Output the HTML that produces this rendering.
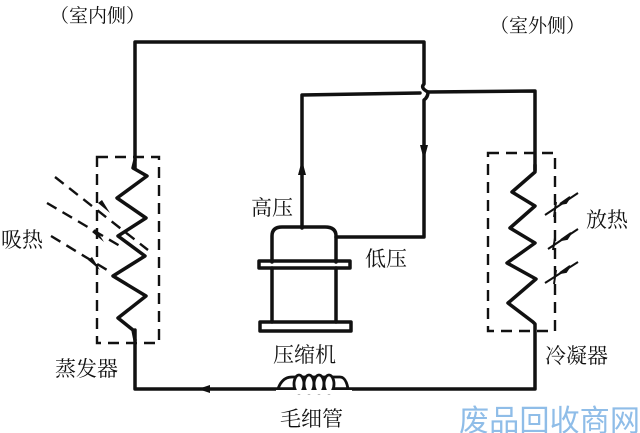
<!DOCTYPE html>
<html><head><meta charset="utf-8"><style>
html,body{margin:0;padding:0;background:#fff;}
svg{display:block;}
text{font-family:"Liberation Serif","Noto Serif CJK SC","Noto Sans CJK SC",serif;fill:#111;}
</style></head><body>
<svg width="640" height="433" viewBox="0 0 640 433" xmlns="http://www.w3.org/2000/svg">
<g fill="none" stroke="#111" stroke-width="3.5" stroke-linejoin="round" stroke-linecap="round">
<path d="M135,168 L135,42 L424,42 L424,84 Q420,88 428,92 Q428,97 424,100 L424,237 L336,237"/>
<path d="M302,228 L302,95 L420,93 M428,92 L535,91 L535,170"/>
<path d="M535,165 L535,172 L512,192 L535,206 L510,228 L535,243 L507,263 L536,279 L508,303 L533,322 L535,324 L535,389 L135,389 L135,330"/>
<path d="M135,160 L133,168 L147,176 L117,198 L146,218 L118,236 L145,256 L113,276 L146,296 L118,318 L133,330 L135,340"/>
<path d="M272,262 L272,236 Q272,227 282,227 L325,227 Q336,227 336,236 L336,262"/>
<rect x="259" y="261" width="91" height="7"/>
<path d="M272,268 L272,322 M336,268 L336,322"/>
<rect x="260" y="322" width="91" height="9"/>
</g>
<g fill="#fff" stroke="#111" stroke-width="2.8">
<path d="M278,389 Q282,377 292,377 L340,377 Q346,377 348,389" fill="none"/>
<ellipse cx="299" cy="384" rx="5" ry="9"/>
<ellipse cx="309" cy="384" rx="5" ry="9"/>
<ellipse cx="319" cy="384" rx="5" ry="9"/>
<ellipse cx="329" cy="384" rx="5" ry="9"/>
</g>
<rect x="276" y="390" width="76" height="4" fill="#fff"/>
<g fill="#111">
<polygon points="302,160 298,175 306,175"/>
<polygon points="424,160 420,145 428,145"/>
<polygon points="198,389 210,385 210,393"/>
</g>
<g fill="none" stroke="#111" stroke-width="2.4" stroke-dasharray="11,7">
<rect x="97" y="157" width="62" height="186"/>
<rect x="488" y="153" width="67" height="178"/>
<path d="M55,177 L148,250"/>
<path d="M47,203 L120,246"/>
<path d="M51,236 L112,273"/>
</g>
<g fill="#111">
<polygon points="110,213 98,203 102,200"/>
<polygon points="104,242 92,232 96,229"/>
<polygon points="100,270 88,260 92,257"/>
</g>
<g stroke="#111" stroke-width="2" fill="#111">
<line x1="578" y1="193" x2="545" y2="215"/>
<line x1="578" y1="229" x2="548" y2="249"/>
<line x1="578" y1="262" x2="545" y2="283"/>
<line x1="556" y1="202" x2="554" y2="217"/>
<line x1="555" y1="238" x2="553" y2="250"/>
<line x1="556" y1="270" x2="554" y2="284"/>
<polygon points="560,204 570,197 566,203"/>
<polygon points="561,240 571,233 567,239"/>
<polygon points="560,273 570,266 566,272"/>
</g>
<g font-size="21">
<text x="50" y="22" font-size="19">（室内侧）</text>
<text x="490" y="32" font-size="19">（室外侧）</text>
<text x="251" y="215">高压</text>
<text x="365" y="266">低压</text>
<text x="273" y="362">压缩机</text>
<text x="280" y="426">毛细管</text>
<text x="1" y="247">吸热</text>
<text x="55" y="376">蒸发器</text>
<text x="586" y="227">放热</text>
<text x="545" y="363">冷凝器</text>
</g>
<text x="459" y="431" font-size="30" style="fill:#8fbde8;font-family:'Noto Sans CJK SC',sans-serif" textLength="181" lengthAdjust="spacingAndGlyphs">废品回收商网</text>
</svg>
</body></html>
